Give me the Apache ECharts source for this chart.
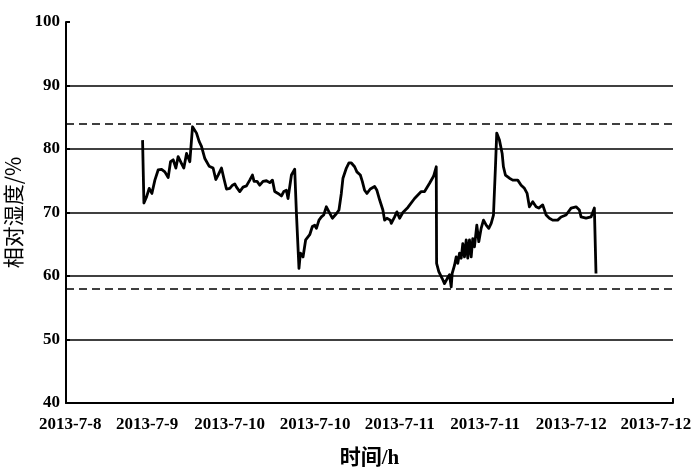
<!DOCTYPE html>
<html>
<head>
<meta charset="utf-8">
<script src="https://cdn.jsdelivr.net/npm/echarts@6/dist/echarts.min.js"></script>
<style>html,body{margin:0;padding:0;background:#fff}#c{width:700px;height:474px}</style>
</head>
<body>
<div id="c"></div>
<script>
// x tick labels and their positions (hours from start of axis)
var tickLabels = ['2013-7-8','2013-7-9','2013-7-10','2013-7-10','2013-7-11','2013-7-11','2013-7-12','2013-7-12'];
var tickHours = [0.6, 11.4, 23.0, 35.0, 46.9, 58.9, 71.0, 82.9];
// limits (dashed lines), %
var limits = [84, 58];
// time (h) and relative humidity (%)
var hours = [10.76,10.95,11.33,11.69,12.07,12.49,12.95,13.43,13.89,14.36,14.69,15.06,15.44,15.76,16.24,16.56,16.94,17.16,17.40,17.78,17.96,18.34,18.71,19.04,19.51,20.11,20.67,21.05,21.38,21.85,22.18,22.55,23.02,23.40,23.72,23.96,24.42,24.88,25.36,25.82,26.20,26.43,26.85,27.23,27.69,28.17,28.63,29.01,29.33,29.80,30.27,30.60,30.97,31.20,31.68,32.14,32.38,32.74,32.94,33.31,33.68,34.25,34.62,34.95,35.19,35.55,35.89,36.21,36.59,37.05,37.43,37.99,38.36,38.69,38.92,39.40,39.76,40.10,40.56,40.88,41.36,41.64,41.96,42.29,42.76,43.37,43.69,44.07,44.53,44.77,45.10,45.57,45.71,46.18,46.50,46.88,47.34,48.04,48.98,49.92,50.39,51.09,51.65,52.03,52.08,52.39,52.87,53.19,53.57,53.89,54.13,54.27,54.60,54.83,55.06,55.30,55.54,55.76,56.00,56.24,56.46,56.70,56.94,57.16,57.40,57.73,58.01,58.34,58.67,59.05,59.41,59.75,60.07,60.35,60.53,60.91,61.29,61.47,61.75,62.32,62.78,63.48,63.96,64.42,64.80,65.12,65.59,66.06,66.43,66.99,67.47,67.93,68.39,69.09,69.57,70.27,70.98,71.68,72.14,72.38,73.08,73.78,74.25,74.48];
var rh = [81.4,71.5,72.5,73.8,73.0,75.1,76.7,76.8,76.4,75.5,78.0,78.3,77.0,78.8,77.7,77.0,79.3,79.3,78.0,83.5,83.8,82.5,81.2,80.4,78.5,77.3,77.0,75.2,75.9,77.0,75.4,73.7,73.8,74.3,74.5,74.0,73.3,74.0,74.2,75.1,75.9,74.9,74.9,74.3,74.9,75.0,74.7,75.1,73.3,73.0,72.6,73.3,73.5,72.2,75.9,76.8,69.9,61.2,63.6,63.0,65.7,66.5,67.8,68.0,67.5,68.8,69.3,69.6,70.9,69.9,69.1,69.8,70.4,73.0,75.4,77.0,77.8,77.8,77.2,76.4,75.9,74.9,73.5,73.0,73.7,74.1,73.5,72.0,70.4,68.8,69.1,68.8,68.3,69.3,70.1,69.1,70.0,70.8,72.2,73.3,73.3,74.6,75.7,77.2,62.0,60.7,59.6,58.8,59.6,60.2,58.3,60.4,61.7,63.0,62.0,63.6,62.8,65.1,63.0,65.7,62.8,65.7,63.0,65.9,64.6,68.0,65.4,67.5,68.8,68.0,67.5,68.3,69.6,77.2,82.5,81.4,79.3,77.2,75.9,75.4,75.1,75.1,74.3,73.8,73.0,70.9,71.7,70.9,70.7,71.2,69.6,69.1,68.8,68.8,69.3,69.6,70.7,70.9,70.4,69.3,69.1,69.3,70.7,60.4];

var data = hours.map(function (h, i) { return [h, rh[i]]; });
var serif = "'Liberation Serif','Noto Sans CJK SC',serif";

var chart = echarts.init(document.getElementById('c'), null, {renderer: 'canvas'});
chart.setOption({
  animation: false,
  backgroundColor: '#fff',
  grid: {left: 66, right: 27, top: 22, bottom: 71, containLabel: false, outerBoundsMode: 'none'},
  xAxis: {
    type: 'value', min: 0, max: 85.3,
    name: '时间/h', nameLocation: 'middle', nameGap: 45,
    nameTextStyle: {fontFamily: serif, fontSize: 21, fontWeight: 'bold', color: '#000'},
    axisLine: {show: true, lineStyle: {color: '#000', width: 2}},
    axisTick: {show: true, inside: true, length: 5, customValues: [85.3], lineStyle: {color: '#000', width: 2}},
    axisLabel: {
      customValues: tickHours, margin: 13, color: '#000', fontFamily: serif, fontSize: 17, fontWeight: 'bold',
      formatter: function (v) {
        var best = 0;
        for (var i = 0; i < tickHours.length; i++) { if (Math.abs(tickHours[i] - v) < Math.abs(tickHours[best] - v)) best = i; }
        return tickLabels[best];
      }
    },
    splitLine: {show: false}
  },
  yAxis: {
    type: 'value', min: 40, max: 100, interval: 10,
    name: '相对湿度/%', nameLocation: 'middle', nameGap: 36,
    nameTextStyle: {fontFamily: "'Noto Sans CJK SC','Liberation Serif',sans-serif", fontSize: 21, color: '#000'},
    axisLine: {show: true, lineStyle: {color: '#000', width: 2}},
    axisTick: {show: true, inside: true, length: 4, lineStyle: {color: '#000', width: 2}},
    axisLabel: {margin: 6, color: '#000', fontFamily: serif, fontSize: 17, fontWeight: 'bold'},
    splitLine: {show: true, showMinLine: false, showMaxLine: false, lineStyle: {color: '#000', width: 1.5, type: 'solid'}}
  },
  series: [{
    type: 'line',
    data: data,
    showSymbol: false,
    symbol: 'none',
    lineStyle: {color: '#000', width: 2.8, join: 'round'},
    z: 5,
    markLine: {
      silent: true,
      symbol: ['none', 'none'],
      label: {show: false},
      lineStyle: {color: '#000', width: 1.5, type: [8, 5]},
      data: limits.map(function (v) { return {yAxis: v}; })
    }
  }]
});
</script>
</body>
</html>
